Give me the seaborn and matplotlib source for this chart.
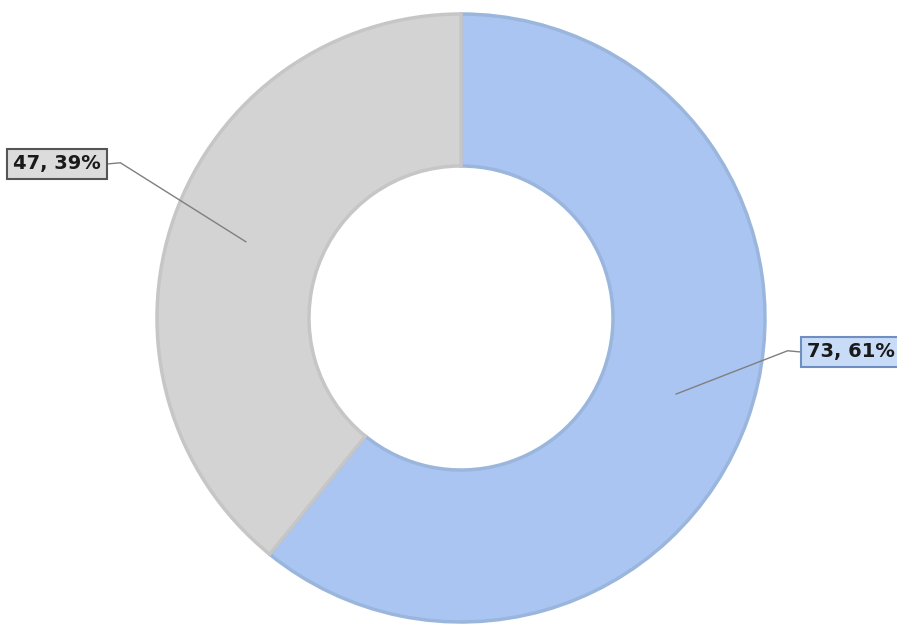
import numpy as np
import matplotlib
matplotlib.use("Agg")
import matplotlib.pyplot as plt
import seaborn as sns

# data
categories = ["A", "B"]
values = [73, 47]
shares = [61, 39]
fill_colors = ["#aac5f1", "#d3d3d3"]
edge_colors = ["#9ab6dc", "#c6c6c6"]
box_fill = ["#c8dcf7", "#dcdcdc"]
box_edge = ["#6f8fc4", "#555555"]

sns.set_theme(style="white")
plt.rcParams['font.family'] = ['DejaVu Sans']

fig = plt.figure(figsize=(8.97, 6.25), dpi=100)
ax = fig.add_axes([0, 0, 1, 1])

# donut centre near pixel (461, 318), radius ~304 px
r_px = 304.0
cx, cy = 461.0, 318.0

wedges, _ = ax.pie(values, startangle=90, counterclock=False,
                   colors=fill_colors, radius=1.0,
                   wedgeprops=dict(width=0.5, linewidth=2.5),
                   frame=True)
for w, ec in zip(wedges, edge_colors):
    w.set_edgecolor(ec)
ax.set_xlim(-cx / r_px, (897 - cx) / r_px)
ax.set_ylim(-(625 - cy) / r_px, cy / r_px)
ax.set_aspect("auto")
ax.axis("off")

# label positions in pixels (text centres), converted to data units
label_px = [(851, 352), (57, 164)]
stub_side = [-1, 1]

for w, v, s, (lx, ly), side, fc, ec in zip(wedges, values, shares, label_px,
                                           stub_side, box_fill, box_edge):
    tx, ty = (lx - cx) / r_px, (cy - ly) / r_px
    mid = np.deg2rad((w.theta1 + w.theta2) / 2)
    px, py = 0.75 * np.cos(mid), 0.75 * np.sin(mid)
    t = ax.text(tx, ty, f"{v}, {s}%", ha="center", va="center",
                fontsize=14, fontweight="bold", color="#1a1a1a",
                bbox=dict(boxstyle="square,pad=0.3", fc=fc, ec=ec, lw=1.5),
                zorder=5)
    fig.canvas.draw()
    bb = t.get_bbox_patch().get_window_extent().transformed(ax.transData.inverted())
    edge_x = bb.x0 if side == -1 else bb.x1
    knee_x = edge_x + side * 0.045
    ax.plot([edge_x, knee_x, px], [ty, ty + 0.004, py], color="#7f7f7f",
            lw=1.0, zorder=4)

fig.savefig("out.png", dpi=100)
